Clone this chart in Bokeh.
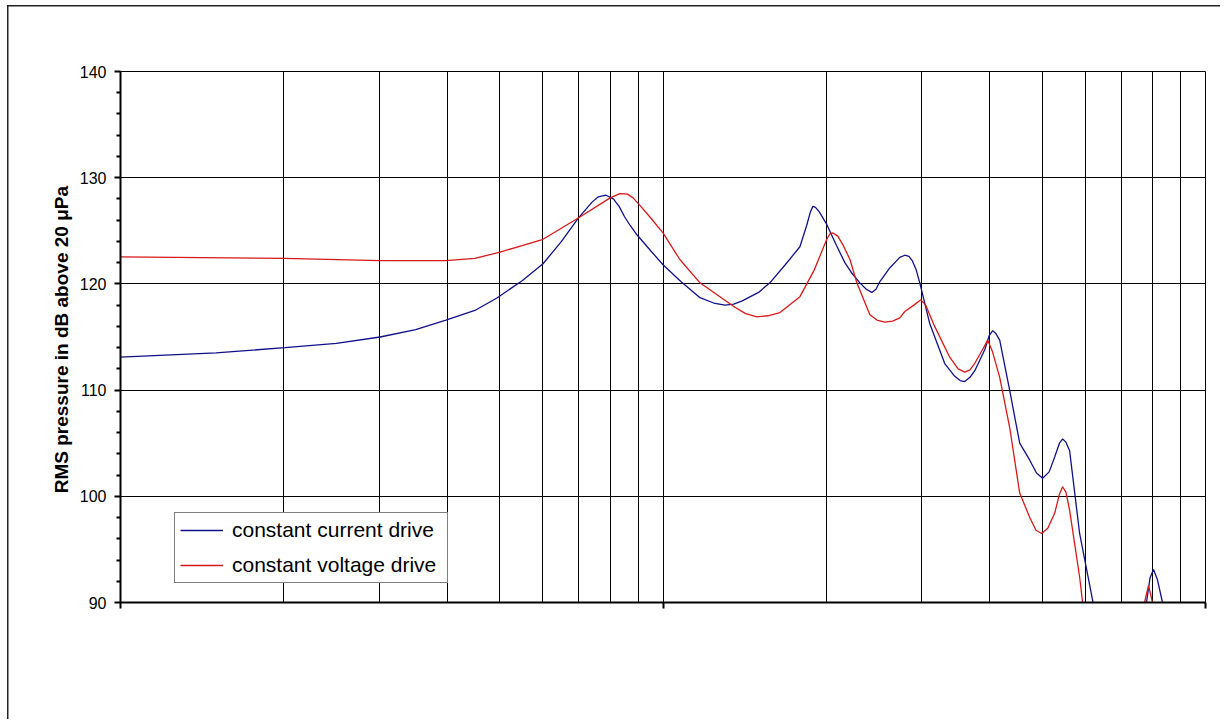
from bokeh.plotting import figure
from bokeh.models import FixedTicker, Legend, LegendItem
from bokeh.embed import file_html
from bokeh.resources import INLINE

# ---- data (frequency in Hz, level in dB re 20 uPa) ----
current_freq = [100, 150, 201, 250, 301, 350, 398, 450, 495, 550, 601, 650, 698, 740,
                760, 785, 810, 830, 850, 870, 896, 950, 1000, 1080, 1170, 1240, 1301,
                1350, 1400, 1500, 1574, 1680, 1788, 1840, 1870, 1889, 1910, 1940, 2004,
                2080, 2164, 2230, 2306, 2370, 2426, 2470, 2509, 2618, 2732, 2791, 2840,
                2880, 2930, 2974, 3101, 3306, 3450, 3530, 3599, 3680, 3754, 3918, 3990,
                4053, 4110, 4175, 4355, 4545, 4743, 4880, 5010, 5150, 5272, 5380, 5453,
                5530, 5617, 5861, 6194, 6500, 7100, 7600, 7785, 7900, 8020, 8150, 8332,
                8700, 9200]
current_db = [113.1, 113.5, 114.0, 114.4, 115.0, 115.7, 116.6, 117.5, 118.7, 120.3, 121.9,
              124.0, 126.2, 127.7, 128.2, 128.35, 128.0, 127.3, 126.3, 125.5, 124.6, 123.1,
              121.8, 120.2, 118.7, 118.2, 118.0, 118.1, 118.4, 119.2, 120.1, 121.8, 123.5,
              125.5, 126.8, 127.3, 127.2, 126.8, 125.6, 123.8, 122.0, 121.0, 120.1, 119.5,
              119.2, 119.5, 120.2, 121.5, 122.5, 122.7, 122.6, 122.2, 121.3, 120.1, 116.3,
              112.5, 111.3, 110.9, 110.8, 111.2, 111.8, 113.8, 115.1, 115.6, 115.3, 114.7,
              110.0, 105.0, 103.4, 102.2, 101.7, 102.3, 103.7, 105.0, 105.4, 105.1, 104.3,
              96.5, 90.2, 84.0, 80.0, 86.0, 90.0, 92.3, 93.1, 92.2, 90.0, 83.0, 80.0]

voltage_freq = [100, 201, 301, 398, 450, 501, 550, 601, 698, 799, 833, 860, 881, 910, 946,
                1000, 1074, 1170, 1357, 1420, 1490, 1560, 1643, 1788, 1900, 1960, 2004,
                2030, 2057, 2100, 2150, 2211, 2277, 2406, 2480, 2563, 2650, 2732, 2791,
                2900, 2987, 3050, 3168, 3377, 3500, 3599, 3680, 3754, 3880, 3968, 4050,
                4175, 4355, 4545, 4743, 4870, 4989, 5120, 5272, 5380, 5453, 5530, 5617,
                5861, 5936, 6300, 7000, 7500, 7720, 7852, 7986, 8400, 9200]
voltage_db = [122.55, 122.4, 122.2, 122.2, 122.4, 123.0, 123.6, 124.2, 126.2, 128.1, 128.5,
              128.45, 128.1, 127.3, 126.3, 124.8, 122.3, 120.1, 117.8, 117.2, 116.9, 117.0,
              117.3, 118.8, 121.3, 123.0, 124.2, 124.7, 124.8, 124.5, 123.6, 122.3, 120.1,
              117.1, 116.6, 116.4, 116.5, 116.8, 117.4, 118.0, 118.5, 118.0, 116.0, 113.1,
              112.0, 111.7, 111.9, 112.5, 113.8, 114.7, 113.6, 111.2, 106.5, 100.3, 98.0,
              96.8, 96.5, 97.0, 98.4, 100.2, 100.9, 100.4, 98.7, 92.4, 90.0, 84.0, 80.0,
              85.0, 90.0, 91.6, 90.0, 83.0, 80.0]

series_names = ["constant current drive", "constant voltage drive"]
y_label = "RMS pressure in dB above 20  \u03bcPa"
y_ticks = [90, 100, 110, 120, 130, 140]
y_minor = [92, 94, 96, 98, 102, 104, 106, 108, 112, 114, 116, 118,
           122, 124, 126, 128, 132, 134, 136, 138]
x_decades = [100, 1000, 10000]
x_grid = [200, 300, 400, 500, 600, 700, 800, 900, 1000,
          2000, 3000, 4000, 5000, 6000, 7000, 8000, 9000]

W, H = 1220, 719
p = figure(width=W, height=H, x_axis_type="log", x_range=(100, 10000), y_range=(90, 140),
           output_backend="svg", toolbar_location=None,
           min_border_left=120, min_border_top=71, min_border_right=W - 1205,
           min_border_bottom=H - 602)
p.background_fill_color = "white"
p.border_fill_alpha = 0
p.outline_line_color = "black"
p.outline_line_width = 1
# outer chart-area border (left and top edges are visible in the window)
p.styles = {"background": "linear-gradient(#222, #222) 7px 5px / 1.5px 100% no-repeat, "
                          "linear-gradient(#222, #222) 7px 5px / 100% 1.5px no-repeat, #ffffff"}

FONT = "Liberation Sans"

# y axis
p.yaxis.ticker = FixedTicker(ticks=y_ticks, minor_ticks=y_minor)
p.yaxis.axis_label = y_label
p.yaxis.axis_label_text_font = FONT
p.yaxis.axis_label_text_font_style = "bold"
p.yaxis.axis_label_text_font_size = "19px"
p.yaxis.axis_label_text_color = "black"
p.yaxis.axis_label_standoff = 5
p.yaxis.major_label_text_font = FONT
p.yaxis.major_label_text_font_size = "16px"
p.yaxis.major_label_text_color = "black"
p.yaxis.major_label_standoff = 8
p.yaxis.axis_line_width = 2
p.yaxis.axis_line_color = "black"
p.yaxis.major_tick_out = 6
p.yaxis.major_tick_in = 0
p.yaxis.minor_tick_out = 4
p.yaxis.minor_tick_in = 0
p.yaxis.major_tick_line_width = 2
p.yaxis.minor_tick_line_width = 2
p.yaxis.major_tick_line_color = "black"
p.yaxis.minor_tick_line_color = "black"

# x axis (log frequency, no labels)
p.xaxis.ticker = FixedTicker(ticks=x_decades, minor_ticks=[])
p.xaxis.major_label_overrides = {v: "" for v in x_decades}
p.xaxis.major_label_text_font_size = "1px"
p.xaxis.axis_line_width = 2
p.xaxis.axis_line_color = "black"
p.xaxis.major_tick_out = 6
p.xaxis.major_tick_in = 0
p.xaxis.major_tick_line_width = 2
p.xaxis.major_tick_line_color = "black"

# grids
p.ygrid.ticker = FixedTicker(ticks=y_ticks)
p.ygrid.grid_line_color = "black"
p.ygrid.grid_line_width = 1
p.xgrid.ticker = FixedTicker(ticks=x_grid)
p.xgrid.grid_line_color = "black"
p.xgrid.grid_line_width = 1

r1 = p.line(current_freq, current_db, line_color="#10108a", line_width=1.3)
r2 = p.line(voltage_freq, voltage_db, line_color="#d81818", line_width=1.3)

legend = Legend(items=[LegendItem(label=series_names[0], renderers=[r1]),
                       LegendItem(label=series_names[1], renderers=[r2])],
                location=(54, 19), margin=0, padding=5, spacing=11,
                glyph_width=43, glyph_height=20, label_height=20, label_width=210,
                label_standoff=9, label_text_font=FONT, label_text_font_size="21px",
                label_text_color="black", border_line_color="black", border_line_width=1,
                background_fill_color="white", background_fill_alpha=1.0)
p.add_layout(legend, "center")

open("out.html", "w").write(file_html(p, INLINE))
